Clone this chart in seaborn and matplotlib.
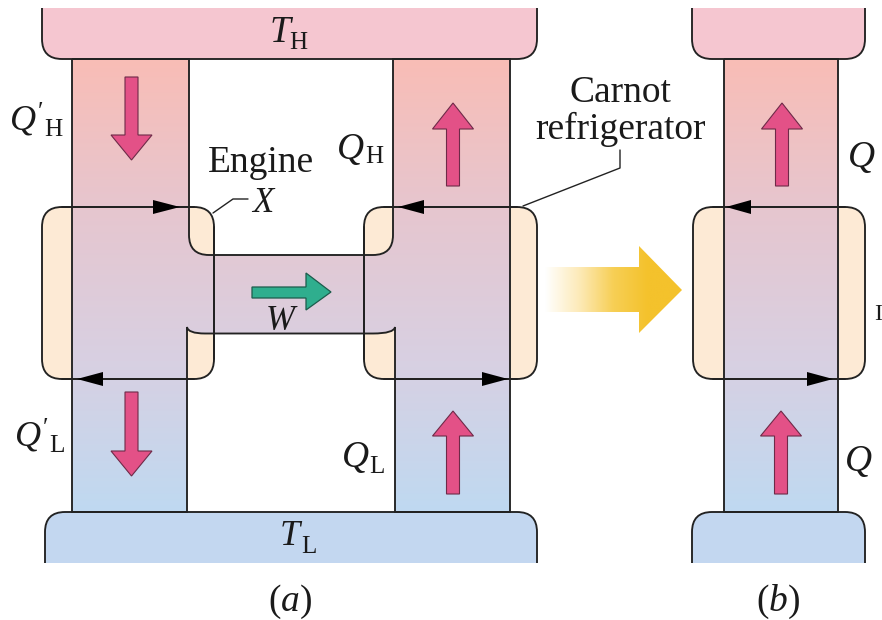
import numpy as np
import seaborn as sns
import matplotlib.pyplot as plt
from matplotlib.patches import PathPatch, Polygon
from matplotlib.path import Path
from matplotlib.colors import to_rgb

# text on the diagram
PANEL_LABELS = ["$(a)$", "$(b)$"]
PRIMED_LABELS = ["$Q'_{\\mathrm{H}}$", "$Q'_{\\mathrm{L}}$"]
RESERVOIR_SYMBOL = "T"
HEAT_SYMBOL = "Q"
SUBSCRIPTS = ["H", "L"]

# colours
HOT = "#f5c6d0"
COLD = "#c3d7f0"
CREAM = "#fdeAd5"
LINE = "#222222"
PINK = "#e35187"
GREEN = "#2fae8e"
COLUMN_STOPS = ["#f9bdb6", "#e6c6cf", "#d8d0e2", "#bfd9f1"]
YELLOW_STOPS = ["#ffffff", "#fdeab8", "#f7cf55", "#f4c22c", "#f4c22c"]
INK = "#1a1a1a"

sns.set_theme(style="white")
plt.rcParams["font.family"] = ["Liberation Serif", "DejaVu Serif"]
plt.rcParams["mathtext.fontset"] = "custom"
plt.rcParams["mathtext.rm"] = "Liberation Serif"
plt.rcParams["mathtext.it"] = "Liberation Serif:italic"

FS = 27
FS_SUB = 18
LW = 1.35


def path_from(points):
    # points are (x, y) or (ctrl_x, ctrl_y, x, y) for a rounded corner
    verts, codes = [points[0]], [Path.MOVETO]
    for p in points[1:]:
        if len(p) == 2:
            verts.append(p)
            codes.append(Path.LINETO)
        else:
            verts += [(p[0], p[1]), (p[2], p[3])]
            codes += [Path.CURVE3, Path.CURVE3]
    return Path(verts, codes)


def rounded_box(x0, x1, y0, y1, r=20):
    return path_from([(x0 + r, y0), (x1 - r, y0), (x1, y0, x1, y0 + r), (x1, y1 - r),
                      (x1, y1, x1 - r, y1), (x0 + r, y1), (x0, y1, x0, y1 - r),
                      (x0, y0 + r), (x0, y0, x0 + r, y0)])


def add_gradient(ax, path, stops, extent, horizontal=False, z=2):
    colors = np.array([to_rgb(c) for c in sns.blend_palette(stops, 256)])
    img = colors[np.newaxis, :, :] if horizontal else colors[:, np.newaxis, :]
    im = ax.imshow(img, extent=extent, aspect="auto", zorder=z, interpolation="bilinear")
    clip = PathPatch(path, transform=ax.transData, fc="none", ec="none")
    ax.add_patch(clip)
    im.set_clip_path(clip)


def stroke(ax, path, z=4, lw=LW):
    ax.add_patch(PathPatch(path, fc="none", ec=LINE, lw=lw, zorder=z, capstyle="butt"))


def reservoir_top(ax, x0, x1):
    fill = path_from([(x0, 8), (x1, 8), (x1, 39), (x1, 59, x1 - 20, 59), (x0 + 20, 59), (x0, 59, x0, 39)])
    ax.add_patch(PathPatch(fill, fc=HOT, ec="none", zorder=3))
    stroke(ax, path_from([(x0, 8), (x0, 39), (x0, 59, x0 + 20, 59), (x1 - 20, 59), (x1, 59, x1, 39), (x1, 8)]))


def reservoir_bottom(ax, x0, x1):
    fill = path_from([(x0, 563), (x1, 563), (x1, 532), (x1, 512, x1 - 20, 512), (x0 + 20, 512), (x0, 512, x0, 532)])
    ax.add_patch(PathPatch(fill, fc=COLD, ec="none", zorder=3))
    stroke(ax, path_from([(x0, 563), (x0, 532), (x0, 512, x0 + 20, 512), (x1 - 20, 512), (x1, 512, x1, 532), (x1, 563)]))


def block_arrow(ax, cx, tip, base, end, half_head=20.5, half_shaft=6.5):
    pts = [(cx, tip), (cx + half_head, base), (cx + half_shaft, base), (cx + half_shaft, end),
           (cx - half_shaft, end), (cx - half_shaft, base), (cx - half_head, base)]
    ax.add_patch(Polygon(pts, closed=True, fc=PINK, ec="#6e2a48", lw=0.8, zorder=6))


def line_head(ax, tip, base, y):
    ax.add_patch(Polygon([(tip, y), (base, y - 7), (base, y + 7)], closed=True, fc="black", ec="none", zorder=6))


def put(ax, x, y, s, size=FS, style="normal", ha="left"):
    ax.text(x, y, s, fontsize=size, style=style, ha=ha, va="baseline", color=INK, zorder=7)


fig = plt.figure(figsize=(8.82, 6.2), dpi=100)
ax = fig.add_axes([0, 0, 1, 1])
col_extent = (0, 882, 512, 59)

# panel (a): engine and refrigerator bodies
for x0, x1 in [(42, 214), (364, 537)]:
    body = rounded_box(x0, x1, 207, 379)
    ax.add_patch(PathPatch(body, fc=CREAM, ec="none", zorder=1))
    stroke(ax, body)

h_shape = path_from([(72, 59), (189, 59), (189, 235), (189, 255, 209, 255), (373, 255), (393, 255, 393, 235),
                     (393, 59), (510, 59), (510, 512), (395, 512), (395, 327), (394, 333.5, 373, 333.5),
                     (205, 333.5), (188, 333.5, 187, 327), (187, 512), (72, 512), (72, 59)])
add_gradient(ax, h_shape, COLUMN_STOPS, col_extent)
stroke(ax, h_shape)

reservoir_top(ax, 42, 537)
reservoir_bottom(ax, 45, 537)

# panel (b)
body_b = rounded_box(693, 865, 207, 379)
ax.add_patch(PathPatch(body_b, fc=CREAM, ec="none", zorder=1))
stroke(ax, body_b)
col_b = path_from([(724, 59), (838, 59), (838, 512), (724, 512), (724, 59)])
add_gradient(ax, col_b, COLUMN_STOPS, col_extent)
stroke(ax, col_b)
reservoir_top(ax, 692, 865)
reservoir_bottom(ax, 692, 865)

# cycle lines cross the gradient, so draw them again on top
for x0, x1 in [(62, 194), (384, 517), (713, 845)]:
    ax.plot([x0, x1], [207, 207], color=LINE, lw=LW, zorder=5)
    ax.plot([x0, x1], [379, 379], color=LINE, lw=LW, zorder=5)
for x in [214, 364]:
    ax.plot([x, x], [227, 359], color=LINE, lw=LW, zorder=5)

for tip, base, y in [(180, 153, 207), (398, 424, 207), (77, 103, 379), (508, 482, 379), (726, 751, 207), (833, 807, 379)]:
    line_head(ax, tip, base, y)

# pink heat arrows
block_arrow(ax, 131.5, 160, 135, 77)
block_arrow(ax, 131.5, 476, 451, 392)
block_arrow(ax, 453, 103, 129, 186)
block_arrow(ax, 453, 411, 436, 494)
block_arrow(ax, 782, 103, 129, 186)
block_arrow(ax, 781, 411, 436, 494)

# green work arrow
ax.add_patch(Polygon([(331, 292), (306, 273), (306, 287), (252, 287), (252, 298), (306, 298), (306, 310)],
                     closed=True, fc=GREEN, ec="#1c5c4c", lw=0.9, zorder=6))

# big yellow arrow
yellow = path_from([(545, 267), (639, 267), (639, 246), (682, 290), (639, 333), (639, 312), (545, 312), (545, 267)])
add_gradient(ax, yellow, YELLOW_STOPS, (545, 682, 333, 246), horizontal=True)

# leader lines
ax.plot([213, 233, 248], [213, 199, 199], color=LINE, lw=1.0, zorder=5)
ax.plot([523, 620, 620], [206, 168, 150], color=LINE, lw=1.0, zorder=5)

# reservoir labels
put(ax, 270, 42, RESERVOIR_SYMBOL, style="italic")
put(ax, 289, 49, SUBSCRIPTS[0], size=FS_SUB)
put(ax, 280, 545, RESERVOIR_SYMBOL, style="italic", size=26)
put(ax, 301, 553, SUBSCRIPTS[1], size=FS_SUB)

# heat labels
put(ax, 9, 131, PRIMED_LABELS[0], size=26)
put(ax, 337, 159, HEAT_SYMBOL, style="italic")
put(ax, 365, 163, SUBSCRIPTS[0], size=FS_SUB)
put(ax, 14, 447, PRIMED_LABELS[1], size=26)
put(ax, 342, 467, HEAT_SYMBOL, style="italic")
put(ax, 369, 473, SUBSCRIPTS[1], size=FS_SUB)
put(ax, 848, 167, HEAT_SYMBOL, style="italic")
put(ax, 845, 471, HEAT_SYMBOL, style="italic")

# other labels
put(ax, 266, 330, "W", style="italic", size=25)
put(ax, 261, 172, "Engine", ha="center")
put(ax, 252, 212, "X", style="italic", size=25)
put(ax, 620, 102, "Carnot", ha="center")
put(ax, 620, 139, "refrigerator", ha="center")
put(ax, 873.8, 320, "I", size=17.5)

# panel letters
put(ax, 290, 611, PANEL_LABELS[0], ha="center")
put(ax, 778, 611, PANEL_LABELS[1], ha="center")

ax.set_xlim(0, 882)
ax.set_ylim(620, 0)
ax.axis("off")
fig.savefig("out.png", dpi=100, facecolor="white")
